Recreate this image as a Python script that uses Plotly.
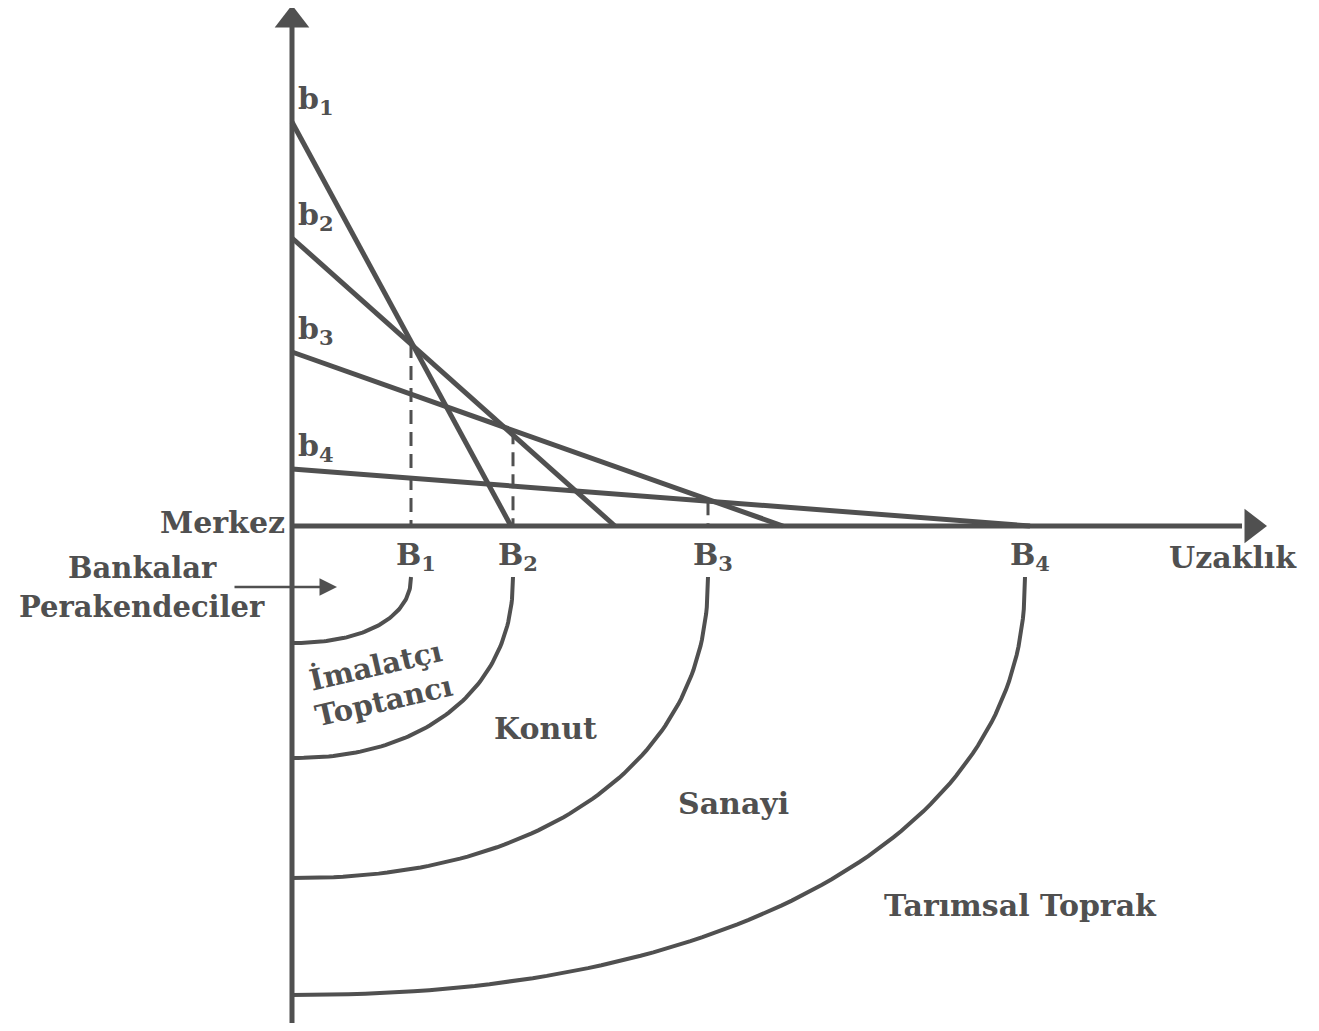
import numpy as np
import plotly.graph_objects as go

# bid-rent lines: height on the rent axis and distance where each meets the distance axis
bid_labels = ["b<sub>1</sub>", "b<sub>2</sub>", "b<sub>3</sub>", "b<sub>4</sub>"]
bid_intercept = [404, 288, 174, 57]
bid_reach = [219, 323, 491, 738]

# zone boundaries on the distance axis and depth of each ring drawn below it
boundary_labels = ["B<sub>1</sub>", "B<sub>2</sub>", "B<sub>3</sub>", "B<sub>4</sub>"]
boundary_x = [119, 221, 416, 733]
ring_depth = [117, 232, 352, 469]

zone_labels = ["Konut", "Sanayi", "Tarımsal Toprak"]
zone_x = [253, 441, 728]
zone_y = [-202, -277, -379]

INK = "#505050"
FONT = "DejaVu Serif"
RING_GAP = 51

fig = go.Figure()

# axes
fig.add_trace(go.Scatter(x=[0, 0], y=[-497, 500], mode="lines",
                         line=dict(color=INK, width=5), hoverinfo="skip"))
fig.add_trace(go.Scatter(x=[0, 950], y=[0, 0], mode="lines",
                         line=dict(color=INK, width=5), hoverinfo="skip"))
fig.add_trace(go.Scatter(x=[0], y=[506], mode="markers", cliponaxis=False,
                         marker=dict(symbol="triangle-up", size=30, color=INK), hoverinfo="skip"))
fig.add_trace(go.Scatter(x=[960], y=[0], mode="markers", cliponaxis=False,
                         marker=dict(symbol="triangle-right", size=30, color=INK), hoverinfo="skip"))

# bid-rent lines
for h, r in zip(bid_intercept, bid_reach):
    fig.add_trace(go.Scatter(x=[0, r], y=[h, 0], mode="lines",
                             line=dict(color=INK, width=5), hoverinfo="skip"))

# dashed drops from the crossings of neighbouring bid lines
for i in range(3):
    bx = boundary_x[i]
    top = bid_intercept[i + 1] * (1 - bx / bid_reach[i + 1])
    fig.add_trace(go.Scatter(x=[bx, bx], y=[top, 0], mode="lines",
                             line=dict(color=INK, width=3, dash="14px,8px"), hoverinfo="skip"))

# land-use rings
t = np.linspace(0, np.pi / 2, 80)
for bx, d in zip(boundary_x, ring_depth):
    xs = bx * np.cos(t) ** (2 / 2.2)
    ys = -RING_GAP - (d - RING_GAP) * np.sin(t) ** (2 / 2.2)
    fig.add_trace(go.Scatter(x=xs, y=ys, mode="lines",
                             line=dict(color=INK, width=4), hoverinfo="skip"))

tf = dict(family=FONT, size=30, color=INK, weight="bold")
tf_small = dict(family=FONT, size=29, color=INK, weight="bold")

for lab, h in zip(bid_labels, bid_intercept):
    fig.add_annotation(x=4, y=h + 22, text=lab, showarrow=False, xanchor="left",
                       yanchor="middle", font=tf)

for lab, bx in zip(boundary_labels, boundary_x):
    fig.add_annotation(x=bx + 5, y=-30, text=lab, showarrow=False, font=tf)

fig.add_annotation(x=-5, y=4, text="Merkez", showarrow=False, xanchor="right", font=tf)
fig.add_annotation(x=941, y=-31, text="Uzaklık", showarrow=False, font=tf)
fig.add_annotation(x=-150, y=-42, text="Bankalar", showarrow=False, font=tf_small)
fig.add_annotation(x=-150, y=-81, text="Perakendeciler", showarrow=False, font=tf_small)
fig.add_annotation(x=45, y=-61, ax=-59, ay=-61, axref="x", ayref="y", text="",
                   showarrow=True, arrowhead=2, arrowwidth=2.5, arrowsize=1.4, arrowcolor=INK)
fig.add_annotation(x=83, y=-139, text="İmalatçı", showarrow=False, textangle=-13, font=tf_small)
fig.add_annotation(x=92, y=-175, text="Toptancı", showarrow=False, textangle=-13, font=tf_small)

for lab, zx, zy in zip(zone_labels, zone_x, zone_y):
    fig.add_annotation(x=zx, y=zy, text=lab, showarrow=False, font=tf)

# the page body adds an 8px offset, so the ranges are shifted to keep the origin in place
fig.update_layout(
    width=1319, height=1031,
    margin=dict(l=0, r=0, t=0, b=0),
    paper_bgcolor="white", plot_bgcolor="white",
    showlegend=False,
    xaxis=dict(range=[-284, 1035], visible=False, fixedrange=True),
    yaxis=dict(range=[-513, 518], visible=False, fixedrange=True),
)

fig.write_html("out.html")
